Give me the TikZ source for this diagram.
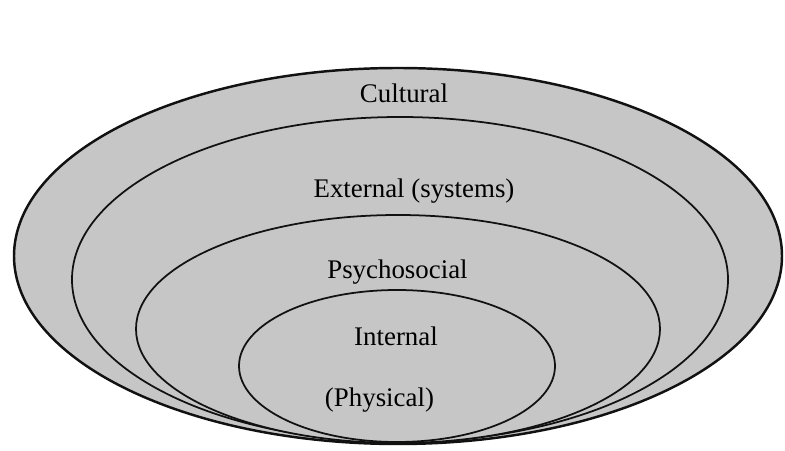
\documentclass[tikz,border=0pt]{standalone}
\usepackage{fontspec}
\setmainfont{Liberation Serif}
\usepackage{xcolor}
\usepackage{tikz}
\usetikzlibrary{positioning, shapes.geometric}
\definecolor{ringfill}{HTML}{C6C6C6}
\definecolor{ringedge}{HTML}{111111}
\tikzset{
  ring/.style={
    draw=ringedge, line width=1.0pt, ellipse,
    inner sep=0pt, outer sep=0pt,
    fill=ringfill
  },
  ringlabel/.style={
    font=\fontsize{15.3}{18}\selectfont, text=black,
    inner sep=0pt, anchor=base
  },
}
\begin{document}
\begin{tikzpicture}[x=1cm, y=1cm]
\useasboundingbox (0,0) rectangle (15.7,9.0);

% nested rings, all sitting on the same bottom
\node[ring, line width=1.4pt, minimum width=15.36cm, minimum height=7.52cm] (cultural) at (7.96, 3.88) {};
\node[ring, minimum width=13.12cm, minimum height=6.50cm] (external) at (8.00, 3.41) {};
\node[ring, minimum width=10.48cm, minimum height=4.56cm] (psycho) at (7.96, 2.42) {};
\node[ring, minimum width=6.32cm, minimum height=3.04cm] (internal) at (7.94, 1.68) {};

% labels
\node[ringlabel] (lcultural) at (8.08, 6.94) {Cultural};
\node[ringlabel] (lexternal) at (8.28, 5.04) {External (systems)};
\node[ringlabel] (lpsycho)   at (7.95, 3.44) {Psychosocial};
\node[ringlabel] (linternal) at (7.92, 2.10) {Internal};
\node[ringlabel] (lphysical) at (7.59, 0.87) {(Physical)};

\end{tikzpicture}
\end{document}
